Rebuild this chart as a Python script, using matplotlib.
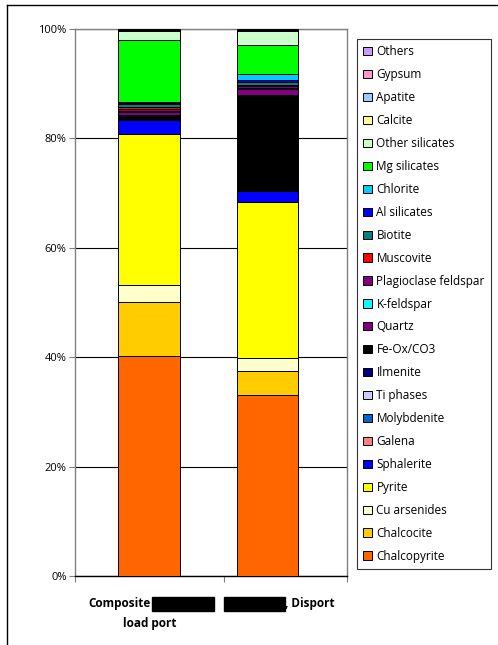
import numpy as np
import matplotlib.pyplot as plt
from matplotlib.patches import Rectangle
from matplotlib.lines import Line2D

plt.rcParams['font.family'] = ['Open Sans', 'DejaVu Sans']

# stacking order, bottom to top
minerals = ["Chalcopyrite", "Chalcocite", "Cu arsenides", "Pyrite", "Sphalerite",
            "Galena", "Molybdenite", "Ti phases", "Ilmenite", "Fe-Ox/CO3", "Quartz",
            "K-feldspar", "Plagioclase feldspar", "Muscovite", "Biotite", "Al silicates",
            "Chlorite", "Mg silicates", "Other silicates", "Calcite", "Apatite",
            "Gypsum", "Others"]

colors = ["#FF6600", "#FFCC00", "#FFFFCC", "#FFFF00", "#0000FF",
          "#FF8080", "#0066CC", "#CCCCFF", "#000080", "#000000", "#800080",
          "#00FFFF", "#800080", "#FF0000", "#008080", "#0000FF",
          "#00CCFF", "#00FF00", "#CCFFCC", "#FFFF99", "#99CCFF",
          "#FF99CC", "#CC99FF"]

load_port = [40.2, 9.9, 3.1, 27.6, 2.6,
             0.05, 0.05, 0.05, 0.1, 0.6, 0.6,
             0.1, 0.5, 0.3, 0.6, 0.1,
             0.25, 11.2, 1.7, 0.15, 0.05,
             0.05, 0.15]

disport = [33.0, 4.4, 2.4, 28.5, 2.1,
           0.05, 0.05, 0.05, 0.1, 17.25, 1.2,
           0.1, 0.3, 0.3, 0.6, 0.3,
           1.1, 5.3, 2.5, 0.15, 0.05,
           0.05, 0.15]

values = np.array([load_port, disport])
x = np.array([0.0, 1.0])

fig = plt.figure(figsize=(4.98, 6.45), dpi=100)
ax = fig.add_axes([75/498, 69/645, 272/498, 547/645])

bottom = np.zeros(2)
for i, name in enumerate(minerals):
    ax.bar(x, values[:, i], width=0.52, bottom=bottom, color=colors[i],
           edgecolor='black', linewidth=0.7, label=name, zorder=3)
    bottom += values[:, i]

ax.set_ylim(0, 100)
ax.set_xlim(-0.6245, 1.671)
ax.set_yticks(np.arange(0, 101, 20))
ax.set_yticklabels([f"{v}%" for v in range(0, 101, 20)], fontsize=8)
ax.yaxis.grid(True, color='black', linewidth=0.8, zorder=0)
ax.set_axisbelow(True)
ax.tick_params(axis='y', length=4, color='#808080', pad=2)
ax.set_xticks([-0.6245, 0.633, 1.671])
ax.set_xticklabels([])
ax.tick_params(axis='x', length=4, color='#808080')
for s in ax.spines.values():
    s.set_color('#808080')
    s.set_linewidth(1.0)
ax.spines['bottom'].set_color('black')

# category labels (partly redacted in the original)
fig.text(151/498, 1 - 604/645, "Composite", ha='right', va='center',
         fontsize=8.5, fontweight='bold')
fig.text(150/498, 1 - 624/645, "load port", ha='center', va='center',
         fontsize=8.5, fontweight='bold')
fig.text(285/498, 1 - 604/645, ", Disport", ha='left', va='center',
         fontsize=8.5, fontweight='bold')
for x0, x1 in [(152, 214), (224, 285)]:
    fig.add_artist(Rectangle((x0/498, 1 - 611/645), (x1 - x0)/498, 14/645,
                             transform=fig.transFigure, color='black'))

# outer chart border (left and top visible)
fig.add_artist(Line2D([7/498, 7/498], [0, 1 - 5/645], transform=fig.transFigure,
                      color='black', linewidth=1.0))
fig.add_artist(Line2D([7/498, 1], [1 - 5/645, 1 - 5/645], transform=fig.transFigure,
                      color='black', linewidth=1.0))

handles, labels = ax.get_legend_handles_labels()
leg = fig.legend(handles[::-1], labels[::-1], loc='upper left',
                 bbox_to_anchor=(357/498, 1 - 39/645), fontsize=8.5,
                 frameon=True, fancybox=False, edgecolor='black',
                 handlelength=0.7, handleheight=0.7, handletextpad=0.4,
                 labelspacing=0.84, borderpad=0.55, borderaxespad=0)
leg.get_frame().set_linewidth(0.8)

fig.savefig("out.png", dpi=100)
